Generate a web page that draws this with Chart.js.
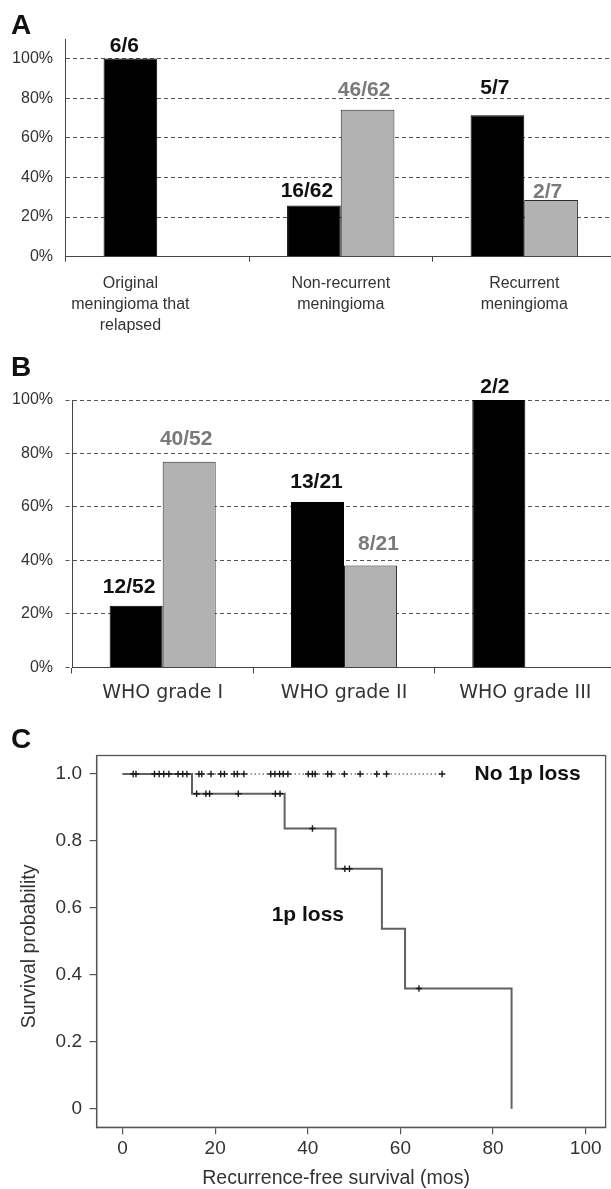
<!DOCTYPE html>
<html>
<head>
<meta charset="utf-8">
<script src="https://cdn.jsdelivr.net/npm/chart.js@4"></script>
<style>
html,body{margin:0;padding:0;background:#fff;width:611px;height:1189px;overflow:hidden;position:relative;}
canvas{position:absolute;left:0;}
.letter{position:absolute;font:bold 28px "Liberation Sans",Arial,sans-serif;line-height:28px;color:#111;}
</style>
</head>
<body>
<canvas id="cA" width="616" height="340" style="top:0px"></canvas>
<canvas id="cB" width="616" height="375" style="top:340px"></canvas>
<canvas id="cC" width="611" height="474" style="top:715px"></canvas>
<div class="letter" style="left:11px;top:11px">A</div>
<div class="letter" style="left:11px;top:353px">B</div>
<div class="letter" style="left:11px;top:725px">C</div>
<script>
// ---------- DATA ----------
const catsA = [["Original", "meningioma that", "relapsed"], ["Non-recurrent", "meningioma"], ["Recurrent", "meningioma"]];
const lossA = [100, 25.8, 71.4];          // black bars
const noLossA = [null, 74.2, 28.6];       // grey bars
const lossLabelsA = ["6/6", "16/62", "5/7"];
const noLossLabelsA = ["", "46/62", "2/7"];

const catsB = ["WHO grade I", "WHO grade II", "WHO grade III"];
const lossB = [23.1, 61.9, 100];
const noLossB = [76.9, 38.1, null];
const lossLabelsB = ["12/52", "13/21", "2/2"];
const noLossLabelsB = ["40/52", "8/21", ""];

const pctTicks = [0, 20, 40, 60, 80, 100];

const kmLossTimes = [0, 15, 35, 46, 56, 61, 84];
const kmLossSurv = [1, 0.941, 0.837, 0.717, 0.538, 0.359, 0];
const kmLossCensored = [16, 18, 18.8, 25, 33, 34, 41, 48, 49, 64];
const kmNoLossTimes = [0, 69];
const kmNoLossSurv = [1, 1];
const kmNoLossCensored = [2.3, 2.9, 6.9, 7.9, 8.9, 10, 12, 13, 13.9, 16.5, 17.1, 19.1, 21.2, 22, 24.1, 24.8, 26.2,
  32, 32.9, 33.9, 34.7, 35.7, 40.1, 41, 41.6, 44.3, 45.1, 47.9, 51.3, 54.9, 57, 69];
const survTicks = [0, 0.2, 0.4, 0.6, 0.8, 1.0];
const timeTicks = [0, 20, 40, 60, 80, 100];
const curveLabels = ["No 1p loss", "1p loss"];
const curveLabelPos = [[76, 1.0], [32.2, 0.579]];

// ---------- STYLE ----------
const SANS = '"Liberation Sans", Arial, Helvetica, sans-serif';
Chart.defaults.font.family = SANS;
Chart.defaults.animation = false;
const BLACK = '#000';
const GREY = '#b2b2b2';
const GRID = '#555';
const AXIS = '#444';
const TXT = '#333';

function barLabels(sets) {
  return {
    id: 'barLabels',
    afterDatasetsDraw(chart) {
      const ctx = chart.ctx;
      sets.forEach((set, di) => {
        const meta = chart.getDatasetMeta(di);
        meta.data.forEach((bar, i) => {
          const txt = set.labels[i];
          if (!txt) return;
          ctx.save();
          ctx.font = 'bold 21px ' + SANS;
          ctx.fillStyle = set.color;
          ctx.textAlign = 'center';
          ctx.textBaseline = 'alphabetic';
          ctx.fillText(txt, bar.x + set.dx[i], bar.y - set.lift[i]);
          ctx.restore();
        });
      });
    }
  };
}

function catLabelsA(lines) {
  return {
    id: 'catLabels',
    afterDraw(chart) {
      const ctx = chart.ctx;
      const bottom = chart.chartArea.bottom;
      lines.forEach((cat, i) => {
        // centre on the bars actually present in the category
        let xs = [];
        chart.data.datasets.forEach((ds, di) => {
          if (ds.data[i] !== null && ds.data[i] !== undefined) xs.push(chart.getDatasetMeta(di).data[i].x);
        });
        const x = xs.reduce((a, b) => a + b, 0) / xs.length;
        ctx.save();
        ctx.font = '16px ' + SANS;
        ctx.fillStyle = TXT;
        ctx.textAlign = 'center';
        ctx.textBaseline = 'alphabetic';
        cat.forEach((line, j) => ctx.fillText(line, x, bottom + 31.5 + j * 21));
        ctx.restore();
      });
    }
  };
}

function pctY(width, top, withTicks) {
  return {
    min: 0, max: 100 + (withTicks ? 0 : 9.7),
    afterBuildTicks(s) { s.ticks = pctTicks.map(v => ({value: v})); },
    ticks: {callback: v => v + '%', font: {size: 16}, color: TXT, padding: 12.5},
    grid: {color: GRID, lineWidth: 1, drawTicks: withTicks, tickLength: 6.5, tickColor: GRID, tickBorderDash: [4, 3]},
    border: {display: true, color: AXIS, width: 1, dash: [4, 3]},
    afterFit(s) { s.width = width; }
  };
}

// ---------- PANEL A ----------
new Chart(document.getElementById('cA'), {
  type: 'bar',
  data: {
    labels: catsA.map(c => c.join(' ')),
    datasets: [
      {data: lossA, backgroundColor: BLACK, borderColor: BLACK, borderWidth: 1},
      {data: noLossA, backgroundColor: GREY, borderColor: '#2a2a2a', borderWidth: 1}
    ]
  },
  options: {
    responsive: false, devicePixelRatio: 1,
    layout: {padding: {top: 39.3, left: 0, right: 0, bottom: 0}},
    plugins: {legend: {display: false}, tooltip: {enabled: false}},
    datasets: {bar: {categoryPercentage: 0.585, barPercentage: 1}},
    scales: {
      x: {
        offset: true,
        grid: {offset: true, drawOnChartArea: false, drawTicks: true, tickLength: 5, color: AXIS, lineWidth: 1},
        border: {display: true, color: AXIS, width: 1},
        ticks: {display: false},
        afterFit(s) { s.height = 83.3; }
      },
      y: pctY(65.5, 39.3, false)
    }
  },
  plugins: [
    barLabels([
      {labels: lossLabelsA, color: '#111', dx: [-6, -7, -2.5], lift: [6.4, 9, 21.3]},
      {labels: noLossLabelsA, color: '#7a7a7a', dx: [0, -3.5, -3.5], lift: [0, 13.3, 2.3]}
    ]),
    catLabelsA(catsA)
  ]
});

// ---------- PANEL B ----------
new Chart(document.getElementById('cB'), {
  type: 'bar',
  data: {
    labels: catsB,
    datasets: [
      {data: lossB, backgroundColor: BLACK, borderColor: BLACK, borderWidth: 1},
      {data: noLossB, backgroundColor: GREY, borderColor: '#2a2a2a', borderWidth: 1}
    ]
  },
  options: {
    responsive: false, devicePixelRatio: 1,
    layout: {padding: {top: 60, left: 0, right: 0, bottom: 0}},
    plugins: {legend: {display: false}, tooltip: {enabled: false}},
    datasets: {bar: {categoryPercentage: 0.585, barPercentage: 1}},
    scales: {
      x: {
        offset: true,
        grid: {offset: true, drawOnChartArea: false, drawTicks: true, tickLength: 6, color: AXIS, lineWidth: 1},
        border: {display: true, color: AXIS, width: 1},
        ticks: {font: {family: '"DejaVu Sans", Verdana, sans-serif', size: 19}, color: TXT, padding: 8, maxRotation: 0, autoSkip: false},
        afterFit(s) { s.height = 47.6; }
      },
      y: pctY(72, 60, true)
    }
  },
  plugins: [
    barLabels([
      {labels: lossLabelsB, color: '#111', dx: [-7, -1, -4], lift: [13, 14.3, 7.3]},
      {labels: noLossLabelsB, color: '#7a7a7a', dx: [-3, 8, 0], lift: [16.6, 16, 0]}
    ])
  ]
});

// ---------- PANEL C ----------
function survAt(times, surv, t) {
  let s = surv[0];
  for (let i = 0; i < times.length; i++) if (times[i] <= t) s = surv[i];
  return s;
}
const frame = {
  id: 'frame',
  beforeDatasetsDraw(chart) {
    const {ctx, chartArea: a} = chart;
    ctx.save();
    ctx.strokeStyle = '#555';
    ctx.lineWidth = 1.3;
    ctx.strokeRect(a.left, a.top, a.right - a.left, a.bottom - a.top);
    ctx.restore();
  }
};
const textC = {
  id: 'textC',
  afterDraw(chart) {
    const {ctx, chartArea: a, scales: {x, y}} = chart;
    ctx.save();
    ctx.fillStyle = '#111';
    ctx.font = 'bold 21px ' + SANS;
    ctx.textAlign = 'left';
    ctx.textBaseline = 'middle';
    curveLabels.forEach((t, i) => ctx.fillText(t, x.getPixelForValue(curveLabelPos[i][0]), y.getPixelForValue(curveLabelPos[i][1])));
    // axis titles
    ctx.fillStyle = TXT;
    ctx.font = '19.5px ' + SANS;
    ctx.textAlign = 'center';
    ctx.fillText('Recurrence-free survival (mos)', (a.left + a.right) / 2 - 15, a.bottom + 51.3);
    ctx.translate(30, (a.top + a.bottom) / 2 + 5);
    ctx.rotate(-Math.PI / 2);
    ctx.fillText('Survival probability', 0, 0);
    ctx.restore();
  }
};

new Chart(document.getElementById('cC'), {
  type: 'scatter',
  data: {
    datasets: [
      {data: kmLossCensored.map(t => ({x: t, y: survAt(kmLossTimes, kmLossSurv, t)})),
       pointStyle: 'cross', pointRadius: 3.2, borderColor: '#1a1a1a', pointBorderWidth: 1.4, showLine: false},
      {data: kmNoLossCensored.map(t => ({x: t, y: survAt(kmNoLossTimes, kmNoLossSurv, t)})),
       pointStyle: 'cross', pointRadius: 3.2, borderColor: '#1a1a1a', pointBorderWidth: 1.4, showLine: false},
      {data: kmLossTimes.map((t, i) => ({x: t, y: kmLossSurv[i]})),
       showLine: true, stepped: 'before', borderColor: '#606060', borderWidth: 2, pointRadius: 0},
      {data: kmNoLossTimes.map((t, i) => ({x: t, y: kmNoLossSurv[i]})),
       showLine: true, borderColor: '#777', borderWidth: 1.3, borderDash: [1.5, 2.5], pointRadius: 0}
    ]
  },
  options: {
    responsive: false, devicePixelRatio: 1,
    layout: {padding: {top: 40.5, left: 0, right: 2, bottom: 0}},
    plugins: {legend: {display: false}, tooltip: {enabled: false}},
    scales: {
      x: {
        min: -5.6, max: 104.3,
        afterBuildTicks(s) { s.ticks = timeTicks.map(v => ({value: v})); },
        ticks: {font: {size: 19}, color: TXT, padding: 3},
        grid: {drawOnChartArea: false, drawTicks: true, tickLength: 7, color: '#555', lineWidth: 1.2},
        border: {display: true, color: '#555', width: 1.3},
        afterFit(s) { s.height = 61.7; }
      },
      y: {
        min: -0.0556, max: 1.0553,
        afterBuildTicks(s) { s.ticks = survTicks.map(v => ({value: v})); },
        ticks: {font: {size: 19}, color: TXT, padding: 7.6, callback: v => v === 0 ? '0' : v.toFixed(1)},
        grid: {drawOnChartArea: false, drawTicks: true, tickLength: 7, color: '#555', lineWidth: 1.2},
        border: {display: true, color: '#555', width: 1.3},
        afterFit(s) { s.width = 96.6; }
      }
    }
  },
  plugins: [frame, textC]
});
</script>
</body>
</html>
